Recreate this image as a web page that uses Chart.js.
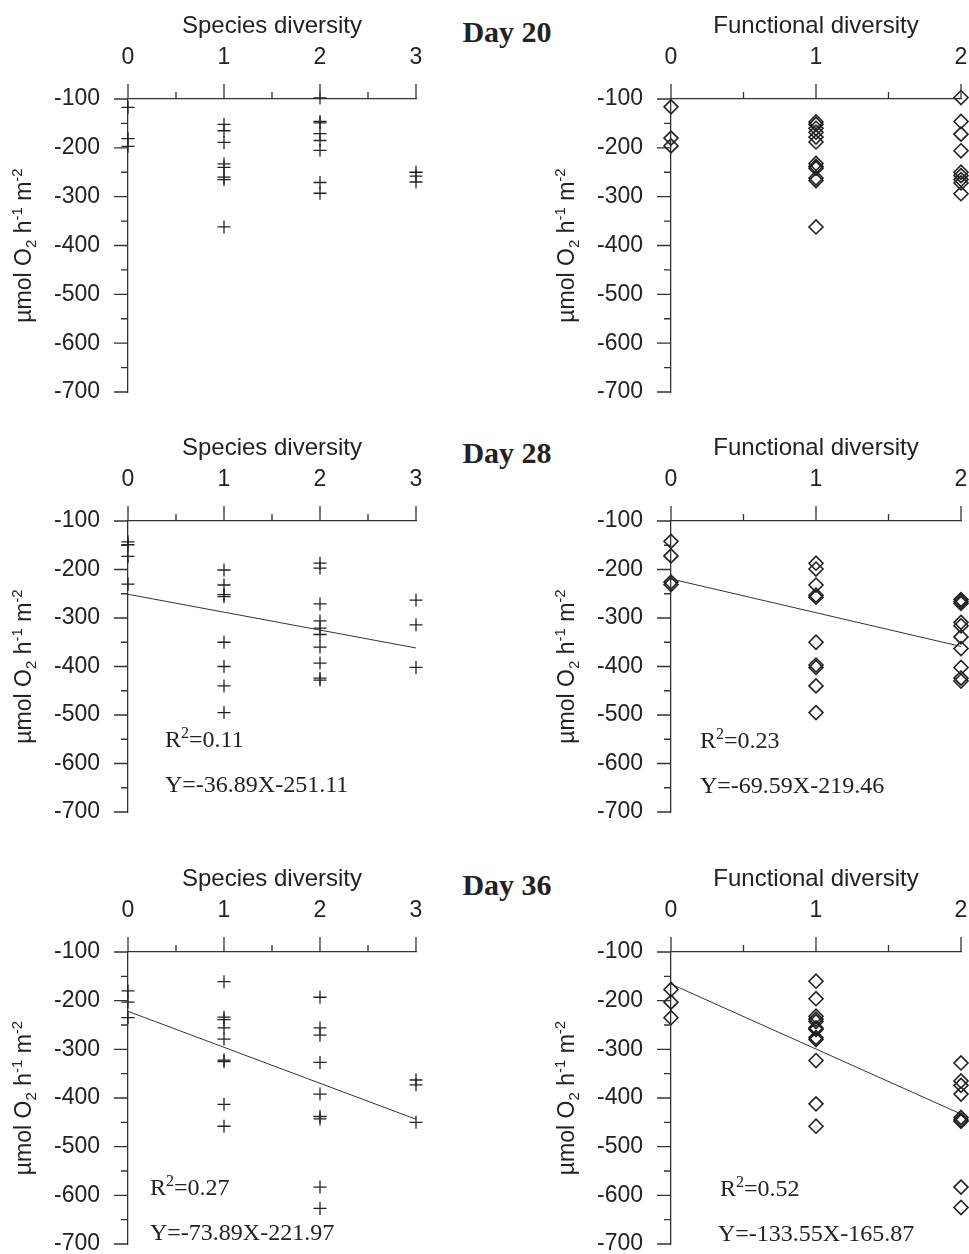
<!DOCTYPE html>
<html>
<head>
<meta charset="utf-8">
<script src="https://cdn.jsdelivr.net/npm/chart.js@4.4.1/dist/chart.umd.min.js"></script>
<style>
html,body{margin:0;padding:0;background:#fff;width:969px;height:1254px;overflow:hidden;position:relative}
canvas{position:absolute}
.day{position:absolute;font:bold 30px "Liberation Serif","Times New Roman",serif;line-height:30px;color:#222;white-space:nowrap;transform:translateX(-50%)}
</style>
</head>
<body>
<div class="day" style="left:507px;top:17px">Day 20</div>
<div class="day" style="left:507px;top:438px">Day 28</div>
<div class="day" style="left:507px;top:870px">Day 36</div>
<canvas id="c1"></canvas><canvas id="c2"></canvas>
<canvas id="c3"></canvas><canvas id="c4"></canvas>
<canvas id="c5"></canvas><canvas id="c6"></canvas>
<script>
// ---------- data (index of outer list = diversity level) ----------
const speciesLevels = [0, 1, 2, 3];
const functionalLevels = [0, 1, 2];
const yTickValues = [-100, -200, -300, -400, -500, -600, -700];

const day20Species = [
  [-117, -181, -197],
  [-152, -165, -189, -233, -240, -260, -265, -362],
  [-98, -146, -149, -171, -185, -205, -271, -293],
  [-250, -258, -270]
];
const day20Functional = [
  [-116, -180, -196],
  [-147, -152, -160, -168, -178, -188, -232, -238, -242, -262, -267, -362],
  [-97, -146, -172, -206, -250, -257, -265, -272, -294]
];
const day28Species = [
  [-143, -149, -173, -230],
  [-201, -232, -252, -256, -350, -400, -440, -495],
  [-187, -197, -271, -306, -321, -334, -360, -393, -424, -428],
  [-263, -314, -402]
];
const day28Functional = [
  [-142, -172, -226, -231],
  [-187, -199, -232, -253, -257, -350, -397, -402, -440, -495],
  [-262, -266, -270, -309, -316, -339, -363, -402, -424, -430]
];
const day36Species = [
  [-180, -203, -235],
  [-161, -234, -239, -256, -279, -322, -325, -413, -458],
  [-193, -256, -271, -327, -392, -438, -443, -583, -627],
  [-363, -373, -450]
];
const day36Functional = [
  [-177, -203, -235],
  [-160, -196, -232, -238, -243, -256, -259, -276, -280, -323, -412, -458],
  [-328, -365, -374, -392, -440, -445, -448, -583, -625]
];
// regression fits: [slope, intercept, R2]
const day28SpeciesFit = [-36.89, -251.11, 0.11];
const day28FunctionalFit = [-69.59, -219.46, 0.23];
const day36SpeciesFit = [-73.89, -221.97, 0.27];
const day36FunctionalFit = [-133.55, -165.87, 0.52];

// ---------- styling ----------
const INK = '#222';
const AXIS = '#333';
const SANS = '"Liberation Sans", Arial, sans-serif';
const SERIF = '"Liberation Serif", "Times New Roman", serif';

function drawRich(ctx, x, y, segs, family, size, align) {
  const small = Math.round(size * 0.65);
  let total = 0;
  const parts = segs.map(s => {
    const fs = (s.sup || s.sub) ? small : size;
    ctx.font = fs + 'px ' + family;
    const w = ctx.measureText(s.t).width;
    total += w;
    return {s, fs, w};
  });
  let cx = align === 'center' ? x - total / 2 : x;
  ctx.textBaseline = 'alphabetic';
  ctx.textAlign = 'left';
  parts.forEach(p => {
    ctx.font = p.fs + 'px ' + family;
    let dy = 0;
    if (p.s.sup) dy = -size * 0.38;
    if (p.s.sub) dy = size * 0.2;
    ctx.fillText(p.s.t, cx, y + dy);
    cx += p.w;
  });
}

const decorPlugin = {
  id: 'decor',
  afterDraw(chart, args, opts) {
    const ctx = chart.ctx;
    const xs = chart.scales.x, ys = chart.scales.y;
    const a = chart.chartArea;
    ctx.save();
    ctx.strokeStyle = AXIS;
    ctx.lineWidth = 1.3;
    ctx.beginPath();
    for (let v = xs.min; v <= xs.max + 1e-9; v += 1) {
      const px = xs.getPixelForValue(v);
      ctx.moveTo(px, a.top); ctx.lineTo(px, a.top - 15);
      if (v + 0.5 < xs.max) {
        const pm = xs.getPixelForValue(v + 0.5);
        ctx.moveTo(pm, a.top); ctx.lineTo(pm, a.top - 7);
      }
    }
    yTickValues.forEach(v => {
      const py = ys.getPixelForValue(v);
      ctx.moveTo(a.left, py); ctx.lineTo(a.left - 14, py);
      if (v > ys.min) {
        const pm = ys.getPixelForValue(v - 50);
        ctx.moveTo(a.left, pm); ctx.lineTo(a.left - 7, pm);
      }
    });
    ctx.stroke();
    // y-axis title
    ctx.fillStyle = INK;
    ctx.save();
    ctx.translate(31, (a.top + a.bottom) / 2);
    ctx.rotate(-Math.PI / 2);
    drawRich(ctx, 0, 0, [
      {t: 'µmol O'}, {t: '2', sub: true}, {t: ' h'}, {t: '-1', sup: true},
      {t: ' m'}, {t: '-2', sup: true}
    ], SANS, 23, 'center');
    ctx.restore();
    // fit texts
    (opts.texts || []).forEach(tx => {
      drawRich(ctx, tx.x - opts.ox, tx.y - opts.oy, tx.segs, SERIF, 24, 'left');
    });
    ctx.restore();
  }
};

function makePanel(id, box, title, levels, groups, marker, fit, textPos) {
  const cv = document.getElementById(id);
  cv.width = box.w; cv.height = box.h;
  cv.style.left = box.left + 'px'; cv.style.top = box.top + 'px';
  const pts = [];
  groups.forEach((vals, i) => vals.forEach(v => pts.push({x: levels[i], y: v})));
  const xMax = levels[levels.length - 1];
  const datasets = [{
    data: pts,
    pointStyle: marker,
    pointRadius: marker === 'cross' ? 6.5 : 7,
    pointBorderWidth: marker === 'cross' ? 1.3 : 1.6,
    borderColor: INK,
    backgroundColor: 'rgba(0,0,0,0)',
    clip: false
  }];
  const texts = [];
  if (fit) {
    const [m, b, r2] = fit;
    datasets.push({
      type: 'line',
      data: [{x: levels[0], y: b + m * levels[0]}, {x: xMax, y: b + m * xMax}],
      borderColor: AXIS, borderWidth: 1, pointRadius: 0, clip: false
    });
    texts.push({x: textPos[0], y: textPos[1], segs: [{t: 'R'}, {t: '2', sup: true}, {t: '=' + r2.toFixed(2)}]});
    texts.push({x: textPos[2], y: textPos[3], segs: [{t: 'Y=' + m.toFixed(2) + 'X' + b.toFixed(2)}]});
  }
  new Chart(cv, {
    type: 'scatter',
    data: {datasets},
    options: {
      responsive: false, animation: false, devicePixelRatio: 1,
      layout: {padding: {left: 0, top: 0, right: box.w - box.right, bottom: box.h - box.bottom}},
      plugins: {
        legend: {display: false}, tooltip: {enabled: false},
        decor: {texts, ox: box.left, oy: box.top}
      },
      scales: {
        x: {
          type: 'linear', position: 'top', min: 0, max: xMax,
          ticks: {stepSize: 1, padding: 28, color: INK, font: {family: SANS, size: 23}, callback: v => String(v)},
          grid: {display: false, drawTicks: false},
          border: {display: true, color: AXIS, width: 1.3},
          title: {display: true, text: title, color: INK, font: {family: SANS, size: 24}, padding: {top: 12, bottom: 0}},
          afterFit: s => { s.height = box.xh; }
        },
        y: {
          type: 'linear', min: -700, max: -100,
          ticks: {stepSize: 100, padding: 28, color: INK, font: {family: SANS, size: 23}, callback: v => String(v)},
          grid: {display: false, drawTicks: false},
          border: {display: true, color: AXIS, width: 1.3},
          afterFit: s => { s.width = 128; }
        }
      }
    },
    plugins: [decorPlugin]
  });
}

// panel boxes: canvas placement and chart-area extents (canvas-relative);
// extra margin beyond the chart area leaves room for Chart.js label padding
const L = {left: 0, right: 416, w: 484};
const R = {left: 543, right: 418, w: 470};
const rows = [
  {top: 0, xh: 99, bottom: 392},
  {top: 422, xh: 99, bottom: 390},
  {top: 853, xh: 99, bottom: 391}
];
function box(col, row) {
  return Object.assign({}, col, {top: row.top, xh: row.xh, bottom: row.bottom, h: row.bottom + 55});
}

makePanel('c1', box(L, rows[0]), 'Species diversity', speciesLevels, day20Species, 'cross', null, null);
makePanel('c2', box(R, rows[0]), 'Functional diversity', functionalLevels, day20Functional, 'rectRot', null, null);
makePanel('c3', box(L, rows[1]), 'Species diversity', speciesLevels, day28Species, 'cross', day28SpeciesFit, [165, 747, 165, 792]);
makePanel('c4', box(R, rows[1]), 'Functional diversity', functionalLevels, day28Functional, 'rectRot', day28FunctionalFit, [700, 748, 700, 793]);
makePanel('c5', box(L, rows[2]), 'Species diversity', speciesLevels, day36Species, 'cross', day36SpeciesFit, [150, 1195, 150, 1240]);
makePanel('c6', box(R, rows[2]), 'Functional diversity', functionalLevels, day36Functional, 'rectRot', day36FunctionalFit, [720, 1196, 718, 1241]);
</script>
</body>
</html>
